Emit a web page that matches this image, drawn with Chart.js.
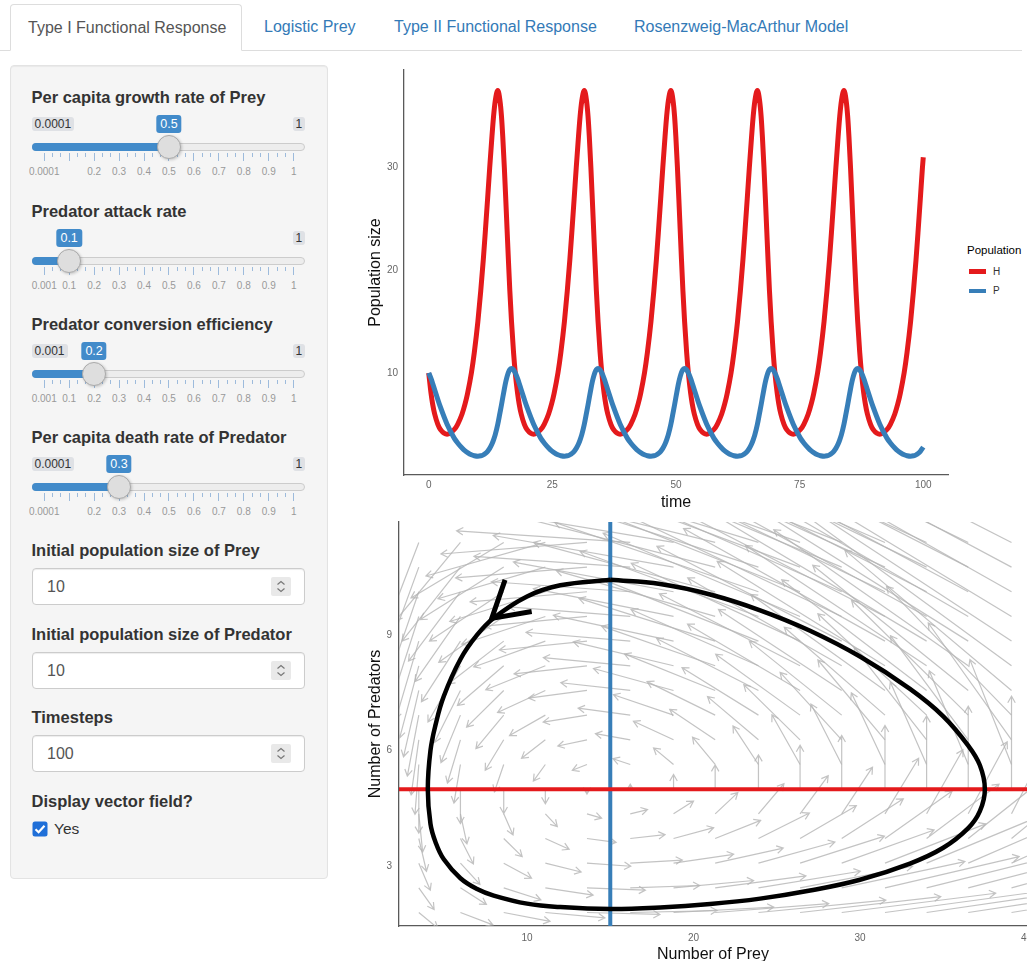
<!DOCTYPE html>
<html>
<head>
<meta charset="utf-8">
<script src="https://cdn.jsdelivr.net/npm/chart.js@4.4.0/dist/chart.umd.min.js"></script>
<style>
  html, body { margin: 0; padding: 0; width: 1027px; height: 961px; overflow: hidden; background: #fff;
    font-family: "Liberation Sans", Arial, sans-serif; color: #333; }
  .abs { position: absolute; white-space: nowrap; }
  .tabline { position: absolute; left: 0; top: 50px; width: 1022px; border-top: 1px solid #ddd; }
  .tab { position: absolute; top: 4px; height: 46px; line-height: 46px; font-size: 16px; color: #337ab7; white-space: nowrap; }
  .tab.active { left: 10px; width: 232px; height: 47px; box-sizing: border-box; padding-left: 17px; background: #fff;
    border: 1px solid #ddd; border-bottom-color: #fff; border-radius: 4px 4px 0 0; color: #555; line-height: 45px; }
  .well { position: absolute; left: 10px; top: 65px; width: 318px; height: 814px; box-sizing: border-box;
    background: #f5f5f5; border: 1px solid #e3e3e3; border-radius: 4px; box-shadow: inset 0 1px 1px rgba(0,0,0,.05); }
  .lbl { position: absolute; left: 31.5px; height: 20px; line-height: 20px; font-size: 16.5px; font-weight: bold; color: #333; white-space: nowrap; }
  .irs-min, .irs-max { position: absolute; height: 14px; line-height: 14px; font-size: 12px; color: #333;
    background: #dfe1e5; border-radius: 3px; padding: 0 3px; }
  .irs-single { position: absolute; height: 18px; line-height: 18px; font-size: 12.5px; color: #fff;
    background: #428bca; border-radius: 3px; padding: 0 4px; transform: translateX(-50%); }
  .irs-line { position: absolute; left: 32px; width: 273px; height: 8px; box-sizing: border-box;
    background: #ededed; border: 1px solid #ccc; border-radius: 8px; }
  .irs-bar { position: absolute; left: 32px; height: 8px; background: #428bca; border-radius: 8px 0 0 8px; }
  .irs-handle { position: absolute; width: 24px; height: 24px; box-sizing: border-box; border-radius: 50%;
    background: #dedede; border: 1px solid #aaa; box-shadow: 1px 1px 3px rgba(0,0,0,.2); }
  .pol { position: absolute; width: 1px; background: #9dbbdc; }
  .glab { position: absolute; font-size: 10px; line-height: 12px; color: #999; transform: translateX(-50%); white-space: nowrap; }
  .numbox { position: absolute; left: 32px; width: 273px; height: 37px; box-sizing: border-box; background: #fff;
    border: 1px solid #ccc; border-radius: 4px; box-shadow: inset 0 1px 1px rgba(0,0,0,.075); }
  .numtxt { position: absolute; left: 14px; top: 0; line-height: 35px; font-size: 16px; color: #555; }
  .spin { position: absolute; left: 238px; top: 8px; }
  canvas { position: absolute; }
  .legtitle { position: absolute; left: 967px; top: 243px; font-size: 11.5px; line-height: 14px; color: #000; }
  .legkey { position: absolute; left: 969px; width: 17px; height: 4.5px; }
  .leglab { position: absolute; left: 993px; font-size: 10px; line-height: 12px; color: #333; }
</style>
</head>
<body>
<div class="tabline"></div>
<div class="tab active">Type I Functional Response</div>
<div class="tab" style="left:264px">Logistic Prey</div>
<div class="tab" style="left:394px">Type II Functional Response</div>
<div class="tab" style="left:634px">Rosenzweig-MacArthur Model</div>

<div class="well"></div>
<div id="sidebar"></div>

<canvas id="timeChart" width="620" height="460" style="left:340px; top:60px;"></canvas>
<div id="legend"></div>
<canvas id="phaseChart" width="687" height="455" style="left:340px; top:510px;"></canvas>

<script>
// ---- time series ----
const timeT = [
  0, 0.47, 0.78, 1.20, 1.84, 2.37, 3.71, 5.18, 5.85, 6.74, 7.36, 7.85, 8.63, 9.22, 9.94, 10.52, 11.03, 11.48, 11.91, 12.33, 12.78, 13.11, 13.45,
  13.96, 14.41, 14.71, 14.97, 15.29, 15.57, 15.84, 16.11, 16.40, 16.74, 17.15, 17.50, 17.97, 18.28, 18.70, 19.34, 19.87, 21.21, 22.68, 23.35, 24.24, 24.86, 25.35, 26.13, 26.72, 27.44, 28.02, 28.53, 28.98, 29.41, 29.83, 30.28, 30.61, 30.95,
  31.46, 31.91, 32.21, 32.47, 32.79, 33.07, 33.34, 33.61, 33.90, 34.24, 34.65, 35.00, 35.47, 35.78, 36.20, 36.84, 37.37, 38.71, 40.18, 40.85, 41.74, 42.36, 42.85, 43.63, 44.22, 44.94, 45.52, 46.03, 46.48, 46.91, 47.33, 47.78, 48.11, 48.45,
  48.96, 49.41, 49.71, 49.97, 50.29, 50.57, 50.84, 51.11, 51.40, 51.74, 52.15, 52.50, 52.97, 53.28, 53.70, 54.34, 54.87, 56.21, 57.68, 58.35, 59.24, 59.86, 60.35, 61.13, 61.72, 62.44, 63.02, 63.53, 63.98, 64.41, 64.83, 65.28, 65.61, 65.95,
  66.46, 66.91, 67.21, 67.47, 67.79, 68.07, 68.34, 68.61, 68.90, 69.24, 69.65, 70.00, 70.47, 70.78, 71.20, 71.84, 72.37, 73.71, 75.18, 75.85, 76.74, 77.36, 77.85, 78.63, 79.22, 79.94, 80.52, 81.03, 81.48, 81.91, 82.33, 82.78, 83.11, 83.45,
  83.96, 84.41, 84.71, 84.97, 85.29, 85.57, 85.84, 86.11, 86.40, 86.74, 87.15, 87.50, 87.97, 88.28, 88.70, 89.34, 89.87, 91.21, 92.68, 93.35, 94.24, 94.86, 95.35, 96.13, 96.72, 97.44, 98.02, 98.53, 98.98, 99.41, 99.83, 100
];
const preyH = [
  10, 8, 7, 6, 5, 4.5, 4.04, 4.5, 5, 6, 7, 8, 10, 12, 15, 18, 21, 24, 27, 30, 33, 35, 36.5,
  37.5, 36.5, 35, 33, 30, 27, 24, 21, 18, 15, 12, 10, 8, 7, 6, 5, 4.5, 4.04, 4.5, 5, 6, 7, 8, 10, 12, 15, 18, 21, 24, 27, 30, 33, 35, 36.5,
  37.5, 36.5, 35, 33, 30, 27, 24, 21, 18, 15, 12, 10, 8, 7, 6, 5, 4.5, 4.04, 4.5, 5, 6, 7, 8, 10, 12, 15, 18, 21, 24, 27, 30, 33, 35, 36.5,
  37.5, 36.5, 35, 33, 30, 27, 24, 21, 18, 15, 12, 10, 8, 7, 6, 5, 4.5, 4.04, 4.5, 5, 6, 7, 8, 10, 12, 15, 18, 21, 24, 27, 30, 33, 35, 36.5,
  37.5, 36.5, 35, 33, 30, 27, 24, 21, 18, 15, 12, 10, 8, 7, 6, 5, 4.5, 4.04, 4.5, 5, 6, 7, 8, 10, 12, 15, 18, 21, 24, 27, 30, 33, 35, 36.5,
  37.5, 36.5, 35, 33, 30, 27, 24, 21, 18, 15, 12, 10, 8, 7, 6, 5, 4.5, 4.04, 4.5, 5, 6, 7, 8, 10, 12, 15, 18, 21, 24, 27, 30, 31.0
];
const predP = [
  10.0, 9.44, 9.0, 8.37, 7.41, 6.66, 5.0, 3.63, 3.18, 2.69, 2.41, 2.24, 2.03, 1.94, 1.89, 1.93, 2.02, 2.16, 2.37, 2.65, 3.07, 3.48, 3.99,
  5.0, 6.13, 6.89, 7.60, 8.44, 9.11, 9.64, 10.05, 10.32, 10.43, 10.29, 10.0, 9.44, 9.0, 8.37, 7.41, 6.66, 5.0, 3.63, 3.18, 2.69, 2.41, 2.24, 2.03, 1.94, 1.89, 1.93, 2.02, 2.16, 2.37, 2.65, 3.07, 3.48, 3.99,
  5.0, 6.13, 6.89, 7.60, 8.44, 9.11, 9.64, 10.05, 10.32, 10.43, 10.29, 10.0, 9.44, 9.0, 8.37, 7.41, 6.66, 5.0, 3.63, 3.18, 2.69, 2.41, 2.24, 2.03, 1.94, 1.89, 1.93, 2.02, 2.16, 2.37, 2.65, 3.07, 3.48, 3.99,
  5.0, 6.13, 6.89, 7.60, 8.44, 9.11, 9.64, 10.05, 10.32, 10.43, 10.29, 10.0, 9.44, 9.0, 8.37, 7.41, 6.66, 5.0, 3.63, 3.18, 2.69, 2.41, 2.24, 2.03, 1.94, 1.89, 1.93, 2.02, 2.16, 2.37, 2.65, 3.07, 3.48, 3.99,
  5.0, 6.13, 6.89, 7.60, 8.44, 9.11, 9.64, 10.05, 10.32, 10.43, 10.29, 10.0, 9.44, 9.0, 8.37, 7.41, 6.66, 5.0, 3.63, 3.18, 2.69, 2.41, 2.24, 2.03, 1.94, 1.89, 1.93, 2.02, 2.16, 2.37, 2.65, 3.07, 3.48, 3.99,
  5.0, 6.13, 6.89, 7.60, 8.44, 9.11, 9.64, 10.05, 10.32, 10.43, 10.29, 10.0, 9.44, 9.0, 8.37, 7.41, 6.66, 5.0, 3.63, 3.18, 2.69, 2.41, 2.24, 2.03, 1.94, 1.89, 1.93, 2.02, 2.16, 2.37, 2.65, 2.78
];
const seriesNames = ['H', 'P'];
const seriesColors = ['#e41a1c', '#377eb8'];
const timeRange = [-5, 105];
const popRange = [0.06, 39.5];
const timeTicks = [0, 25, 50, 75, 100];
const popTicks = [10, 20, 30];

// ---- phase plane (lower panel) ----
const preyRange = [2.31, 40.03];
const predRange = [1.45, 11.93];
const preyTicks = [10, 20, 30, 40];
const predTicks = [3, 6, 9];
const nullPredH = 15;   // vertical (blue)
const nullPreyP = 5;    // horizontal (red)
const orbitH = [15, 12, 10, 8, 7, 6, 5, 4.5, 4.2, 4.04, 4.2, 4.5, 5, 6, 7, 8, 10, 12, 15, 18, 21, 24, 27, 30, 33, 35, 36.5, 37.2, 37.5, 37.2, 36.5, 35, 33, 30, 27, 24, 21, 18, 15];
const orbitP = [10.43, 10.29, 10.0, 9.44, 9.0, 8.37, 7.41, 6.66, 6.0, 5.0, 4.1, 3.63, 3.18, 2.69, 2.41, 2.24, 2.03, 1.94, 1.89, 1.93, 2.02, 2.16, 2.37, 2.65, 3.07, 3.48, 3.99, 4.43, 5.0, 5.62, 6.13, 6.89, 7.60, 8.44, 9.11, 9.64, 10.05, 10.32, 10.43];
const orbitArrowH = [8.68, 7.88, 10.28];
const orbitArrowP = [10.43, 9.43, 9.61];

// vector field grid and arrow offsets (one row per predator level)
const fieldH = [3.5, 6.0, 8.6, 11.1, 13.6, 16.2, 18.8, 21.3, 23.9, 26.4, 28.9, 31.5, 34.0, 36.5, 39.1];
const fieldP = [1.8, 2.44, 3.08, 3.72, 4.36, 5.0, 5.64, 6.28, 6.92, 7.56, 8.2, 8.84, 9.48, 10.12, 10.76, 11.4];
const fieldDH = [
  [1.15, 1.95, 2.78, 3.58, 4.38, 5.22, 6.02, 6.82, 7.65, 8.45, 9.25, 10.08, 10.88, 11.68, 12.51],
  [0.92, 1.56, 2.23, 2.87, 3.51, 4.17, 4.81, 5.45, 6.12, 6.76, 7.40, 8.06, 8.70, 9.34, 10.01],
  [0.69, 1.17, 1.67, 2.15, 2.63, 3.13, 3.61, 4.09, 4.59, 5.07, 5.55, 6.05, 6.53, 7.01, 7.51],
  [0.46, 0.78, 1.11, 1.43, 1.75, 2.09, 2.41, 2.73, 3.06, 3.38, 3.70, 4.03, 4.35, 4.67, 5.00],
  [0.23, 0.39, 0.56, 0.72, 0.88, 1.04, 1.20, 1.36, 1.53, 1.69, 1.85, 2.02, 2.18, 2.34, 2.50],
  [0, 0, 0, 0, 0, 0, 0, 0, 0, 0, 0, 0, 0, 0, 0],
  [-0.23, -0.39, -0.56, -0.72, -0.88, -1.04, -1.20, -1.36, -1.53, -1.69, -1.85, -2.02, -2.18, -2.34, -2.50],
  [-0.46, -0.78, -1.11, -1.43, -1.75, -2.09, -2.41, -2.73, -3.06, -3.38, -3.70, -4.03, -4.35, -4.67, -5.00],
  [-0.69, -1.17, -1.67, -2.15, -2.63, -3.13, -3.61, -4.09, -4.59, -5.07, -5.55, -6.05, -6.53, -7.01, -7.51],
  [-0.92, -1.56, -2.23, -2.87, -3.51, -4.17, -4.81, -5.45, -6.12, -6.76, -7.40, -8.06, -8.70, -9.34, -10.01],
  [-1.15, -1.95, -2.78, -3.58, -4.38, -5.22, -6.02, -6.82, -7.65, -8.45, -9.25, -10.08, -10.88, -11.68, -12.51],
  [-1.38, -2.34, -3.34, -4.30, -5.26, -6.26, -7.22, -8.18, -9.18, -10.14, -11.10, -12.10, -13.06, -14.02, -15.01],
  [-1.61, -2.73, -3.90, -5.02, -6.14, -7.30, -8.42, -9.54, -10.71, -11.83, -12.95, -14.11, -15.23, -16.35, -17.51],
  [-1.84, -3.12, -4.46, -5.74, -7.02, -8.34, -9.62, -10.90, -12.24, -13.52, -14.80, -16.13, -17.41, -18.69, -20.02],
  [-2.07, -3.51, -5.01, -6.45, -7.89, -9.39, -10.83, -12.27, -13.77, -15.21, -16.65, -18.14, -19.58, -21.02, -22.52],
  [-2.30, -3.90, -5.57, -7.17, -8.77, -10.43, -12.03, -13.63, -15.30, -16.90, -18.50, -20.16, -21.76, -23.36, -25.02]
];
const fieldDP = [
  [-0.41, -0.32, -0.23, -0.14, -0.05, 0.05, 0.14, 0.23, 0.32, 0.41, 0.50, 0.59, 0.68, 0.77, 0.87],
  [-0.56, -0.43, -0.31, -0.19, -0.06, 0.06, 0.19, 0.31, 0.43, 0.56, 0.68, 0.81, 0.93, 1.05, 1.18],
  [-0.70, -0.55, -0.39, -0.23, -0.08, 0.08, 0.23, 0.39, 0.55, 0.70, 0.86, 1.02, 1.17, 1.32, 1.48],
  [-0.85, -0.66, -0.47, -0.28, -0.10, 0.10, 0.28, 0.47, 0.66, 0.85, 1.03, 1.23, 1.41, 1.60, 1.79],
  [-0.99, -0.78, -0.55, -0.33, -0.11, 0.11, 0.33, 0.55, 0.78, 0.99, 1.21, 1.44, 1.66, 1.87, 2.10],
  [-1.14, -0.89, -0.63, -0.38, -0.13, 0.13, 0.38, 0.63, 0.89, 1.14, 1.39, 1.65, 1.90, 2.15, 2.41],
  [-1.29, -1.00, -0.71, -0.43, -0.15, 0.15, 0.43, 0.71, 1.00, 1.29, 1.57, 1.86, 2.14, 2.43, 2.72],
  [-1.43, -1.12, -0.79, -0.48, -0.16, 0.16, 0.48, 0.79, 1.12, 1.43, 1.75, 2.07, 2.39, 2.70, 3.03],
  [-1.58, -1.23, -0.87, -0.53, -0.18, 0.18, 0.53, 0.87, 1.23, 1.58, 1.92, 2.28, 2.63, 2.98, 3.34],
  [-1.72, -1.35, -0.95, -0.57, -0.20, 0.20, 0.57, 0.95, 1.35, 1.72, 2.10, 2.49, 2.87, 3.25, 3.64],
  [-1.87, -1.46, -1.03, -0.62, -0.21, 0.21, 0.62, 1.03, 1.46, 1.87, 2.28, 2.71, 3.12, 3.53, 3.95],
  [-2.02, -1.57, -1.11, -0.67, -0.23, 0.23, 0.67, 1.11, 1.57, 2.02, 2.46, 2.92, 3.36, 3.80, 4.26],
  [-2.16, -1.69, -1.19, -0.72, -0.25, 0.25, 0.72, 1.19, 1.69, 2.16, 2.64, 3.13, 3.60, 4.08, 4.57],
  [-2.31, -1.80, -1.28, -0.77, -0.26, 0.26, 0.77, 1.28, 1.80, 2.31, 2.81, 3.34, 3.85, 4.35, 4.88],
  [-2.45, -1.92, -1.36, -0.82, -0.28, 0.28, 0.82, 1.36, 1.92, 2.45, 2.99, 3.55, 4.09, 4.63, 5.19],
  [-2.60, -2.03, -1.44, -0.87, -0.30, 0.30, 0.87, 1.44, 2.03, 2.60, 3.17, 3.76, 4.33, 4.90, 5.49]
];

// ---- sidebar inputs ----
const sliders = [
  { label: 'Per capita growth rate of Prey', min: '0.0001', value: 0.5, y: 97, showMin: true },
  { label: 'Predator attack rate', min: '0.001', value: 0.1, y: 210.5, showMin: false },
  { label: 'Predator conversion efficiency', min: '0.001', value: 0.2, y: 323.5, showMin: true },
  { label: 'Per capita death rate of Predator', min: '0.0001', value: 0.3, y: 436.7, showMin: true }
];
const numInputs = [
  { label: 'Initial population size of Prey', value: '10', y: 550 },
  { label: 'Initial population size of Predator', value: '10', y: 634 },
  { label: 'Timesteps', value: '100', y: 717.3 }
];

const FONT = "'Liberation Sans', Arial, sans-serif";
Chart.defaults.font.family = FONT;

// sidebar markup
const sx = v => 44.2 + 249.5 * v;
const spinSvg = '<svg class="spin" width="20" height="19" viewBox="0 0 20 19"><rect width="20" height="19" rx="2" fill="#e9e9e9"/>' +
  '<polyline points="6.5,7.5 10,4.5 13.5,7.5" fill="none" stroke="#777" stroke-width="1.2"/>' +
  '<polyline points="6.5,11.5 10,14.5 13.5,11.5" fill="none" stroke="#777" stroke-width="1.2"/></svg>';
let html = '';
sliders.forEach(s => {
  const Y = s.y, hx = sx(s.value);
  html += `<div class="lbl" style="top:${Y - 10}px">${s.label}</div>`;
  if (s.showMin) html += `<div class="irs-min" style="left:31.5px;top:${Y + 20}px">${s.min}</div>`;
  html += `<div class="irs-max" style="left:292.5px;top:${Y + 20}px">1</div>`;
  html += `<div class="irs-line" style="top:${Y + 46}px"></div>`;
  html += `<div class="irs-bar" style="top:${Y + 46}px;width:${hx - 32}px"></div>`;
  for (let k = 0; k <= 30; k++) {
    const major = k % 3 === 0;
    html += `<div class="pol" style="left:${sx(k / 30) - 0.5}px;top:${Y + 56}px;height:${major ? 8 : 4}px"></div>`;
  }
  for (let k = 0; k <= 10; k++) {
    const t = k === 0 ? s.min : (k === 10 ? '1' : (k / 10).toFixed(1));
    if (k === 1 && s.min === '0.0001') continue;
    html += `<div class="glab" style="left:${sx(k / 10)}px;top:${Y + 69}px">${t}</div>`;
  }
  html += `<div class="irs-handle" style="left:${hx - 12}px;top:${Y + 38}px"></div>`;
  html += `<div class="irs-single" style="left:${hx}px;top:${Y + 18}px">${s.value}</div>`;
});
numInputs.forEach(n => {
  html += `<div class="lbl" style="top:${n.y - 10}px">${n.label}</div>`;
  html += `<div class="numbox" style="top:${n.y + 17.5}px"><div class="numtxt">${n.value}</div>${spinSvg}</div>`;
});
html += `<div class="lbl" style="top:790.7px">Display vector field?</div>`;
html += '<svg class="abs" style="left:31.5px;top:821px" width="16" height="16" viewBox="0 0 16 16"><rect x="0.5" y="0.5" width="15" height="15" rx="2.5" fill="#1f6fd8"/>' +
  '<polyline points="3.5,8.2 6.6,11.2 12.5,4.8" fill="none" stroke="#fff" stroke-width="2.2"/></svg>';
html += '<div class="abs" style="left:54px;top:819px;font-size:15.5px;line-height:20px;color:#333">Yes</div>';
document.getElementById('sidebar').innerHTML = html;

// legend of the time panel
let leg = '<div class="legtitle">Population</div>';
seriesNames.forEach((n, i) => {
  const cy = 271.5 + i * 19.4;
  leg += `<div class="legkey" style="top:${cy - 2.25}px;background:${seriesColors[i]}"></div>`;
  leg += `<div class="leglab" style="top:${cy - 6}px">${n}</div>`;
});
document.getElementById('legend').innerHTML = leg;

const axisBorder = { display: true, color: '#5a5a5a', width: 1.3 };
const tickFont = { size: 10, family: FONT };
const titleFont = { size: 16, family: FONT };
// fixed axis sizes, no label overflow padding
const fixX = h => s => { s.height = h; s.paddingLeft = 0; s.paddingRight = 0; };
const fixY = w => s => { s.width = w; s.paddingTop = 0; s.paddingBottom = 0; };

// ---- chart 1: population over time ----
new Chart(document.getElementById('timeChart'), {
  type: 'line',
  data: {
    datasets: seriesNames.map((n, i) => ({
      label: n,
      data: timeT.map((t, k) => ({ x: t, y: (i === 0 ? preyH : predP)[k] })),
      borderColor: seriesColors[i],
      borderWidth: 5,
      pointRadius: 0,
      fill: false,
      cubicInterpolationMode: 'monotone',
      order: 2 - i
    }))
  },
  options: {
    responsive: false,
    animation: false,
    layout: { padding: { left: 0, right: 12, top: 10, bottom: 0 }, autoPadding: false },
    plugins: { legend: { display: false }, tooltip: { enabled: false } },
    scales: {
      x: {
        type: 'linear', min: timeRange[0], max: timeRange[1],
        grid: { display: false, drawTicks: false }, border: axisBorder,
        ticks: { font: tickFont, color: '#666', padding: 4, maxRotation: 0 },
        afterBuildTicks: s => { s.ticks = timeTicks.map(v => ({ value: v })); },
        afterFit: fixX(45),
        title: { display: true, text: 'time', font: titleFont, color: '#111', padding: { top: 0, bottom: 7.4 } }
      },
      y: {
        type: 'linear', min: popRange[0], max: popRange[1],
        grid: { display: false, drawTicks: false }, border: axisBorder,
        ticks: { font: tickFont, color: '#666', padding: 6 },
        afterBuildTicks: s => { s.ticks = popTicks.map(v => ({ value: v })); },
        afterFit: fixY(64),
        title: { display: true, text: 'Population size', font: titleFont, color: '#111', padding: { top: 26.4, bottom: 0 } }
      }
    }
  }
});

// ---- chart 2: phase plane with vector field ----
function drawArrow(ctx, x0, y0, x1, y1, head) {
  const ang = Math.atan2(y1 - y0, x1 - x0);
  ctx.beginPath();
  ctx.moveTo(x0, y0);
  ctx.lineTo(x1, y1);
  ctx.moveTo(x1 - head * Math.cos(ang - Math.PI / 6), y1 - head * Math.sin(ang - Math.PI / 6));
  ctx.lineTo(x1, y1);
  ctx.lineTo(x1 - head * Math.cos(ang + Math.PI / 6), y1 - head * Math.sin(ang + Math.PI / 6));
  ctx.stroke();
}

const vectorField = {
  id: 'vectorField',
  beforeDatasetsDraw(chart) {
    const { ctx, chartArea: a, scales: { x, y } } = chart;
    ctx.save();
    ctx.beginPath();
    ctx.rect(a.left, a.top, a.right - a.left, a.bottom - a.top);
    ctx.clip();
    ctx.strokeStyle = 'rgba(180,180,180,0.8)';
    ctx.lineWidth = 1.2;
    fieldP.forEach((p, i) => fieldH.forEach((h, j) => {
      drawArrow(ctx,
        x.getPixelForValue(h), y.getPixelForValue(p),
        x.getPixelForValue(h + fieldDH[i][j]), y.getPixelForValue(p + fieldDP[i][j]), 7.5);
    }));
    ctx.restore();
  }
};

new Chart(document.getElementById('phaseChart'), {
  type: 'scatter',
  data: {
    datasets: [
      { data: [{ x: nullPredH, y: predRange[0] }, { x: nullPredH, y: predRange[1] }],
        showLine: true, borderColor: '#377eb8', borderWidth: 4, pointRadius: 0, order: 4 },
      { data: [{ x: preyRange[0], y: nullPreyP }, { x: preyRange[1], y: nullPreyP }],
        showLine: true, borderColor: '#e41a1c', borderWidth: 4, pointRadius: 0, order: 3 },
      { data: orbitH.map((h, k) => ({ x: h, y: orbitP[k] })),
        showLine: true, borderColor: '#000', borderWidth: 4.5, pointRadius: 0, tension: 0.4, order: 2 },
      { data: orbitArrowH.map((h, k) => ({ x: h, y: orbitArrowP[k] })),
        showLine: true, borderColor: '#000', borderWidth: 5, pointRadius: 0, tension: 0, order: 1 }
    ]
  },
  options: {
    responsive: false,
    animation: false,
    layout: { padding: { left: 0, right: 0, top: 12, bottom: 0 }, autoPadding: false },
    plugins: { legend: { display: false }, tooltip: { enabled: false } },
    scales: {
      x: {
        type: 'linear', min: preyRange[0], max: preyRange[1],
        grid: { display: false, drawTicks: false }, border: axisBorder,
        ticks: { font: tickFont, color: '#666', padding: 6, maxRotation: 0 },
        afterBuildTicks: s => { s.ticks = preyTicks.map(v => ({ value: v })); },
        afterFit: fixX(39),
        title: { display: true, text: 'Number of Prey', font: titleFont, color: '#111', padding: { top: 0, bottom: 1 } }
      },
      y: {
        type: 'linear', min: predRange[0], max: predRange[1],
        grid: { display: false, drawTicks: false }, border: axisBorder,
        ticks: { font: tickFont, color: '#666', padding: 7 },
        afterBuildTicks: s => { s.ticks = predTicks.map(v => ({ value: v })); },
        afterFit: fixY(59),
        title: { display: true, text: 'Number of Predators', font: titleFont, color: '#111', padding: { top: 26.4, bottom: 0 } }
      }
    }
  },
  plugins: [vectorField]
});
</script>
</body>
</html>
